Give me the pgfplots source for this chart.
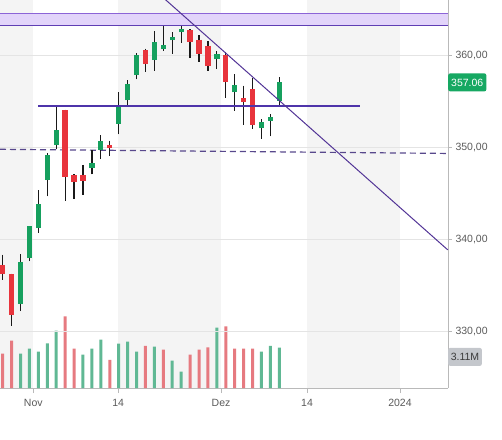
\documentclass[border=0pt]{standalone}
\usepackage{pgfplots}
\pgfplotsset{compat=1.18}
\usepackage{pgfplotstable}
\usepackage{fontspec}
\setmainfont{Liberation Sans}

\definecolor{bandgray}{RGB}{244,244,244}
\definecolor{gridgray}{RGB}{228,228,228}
\definecolor{axisgray}{RGB}{185,185,185}
\definecolor{labelgray}{RGB}{90,90,90}
\definecolor{cgreen}{RGB}{22,160,94}
\definecolor{cred}{RGB}{232,52,60}
\definecolor{vgreen}{RGB}{96,184,148}
\definecolor{vred}{RGB}{230,122,128}
\definecolor{lavfill}{RGB}{226,212,250}
\definecolor{lavtop}{RGB}{140,100,215}
\definecolor{lavbot}{RGB}{95,62,180}
\definecolor{supcol}{RGB}{78,52,170}
\definecolor{trendcol}{RGB}{82,52,150}
\definecolor{dashcol}{RGB}{88,72,140}
\definecolor{wickcol}{RGB}{25,25,25}
\definecolor{pricegreen}{RGB}{22,168,98}
\definecolor{volbox}{RGB}{196,199,204}
\definecolor{voltext}{RGB}{60,60,60}

% green candles: k, wick (low/high), body (open/close)
\pgfplotstableread[row sep=\\]{
k w b\\
2 332.23 333.03\\
2 338.47 337.54\\
2 nan nan\\
3 337.65 338.00\\
3 341.50 341.44\\
3 nan nan\\
4 340.72 341.26\\
4 345.41 343.86\\
4 nan nan\\
5 344.69 346.45\\
5 349.38 349.16\\
5 nan nan\\
6 349.80 350.26\\
6 354.42 351.91\\
6 nan nan\\
10 347.07 347.75\\
10 349.75 348.26\\
10 nan nan\\
11 348.73 349.75\\
11 351.30 350.67\\
11 nan nan\\
13 351.41 352.56\\
13 356.03 354.36\\
13 nan nan\\
14 354.60 355.11\\
14 357.37 356.89\\
14 nan nan\\
15 357.39 357.91\\
15 360.23 360.06\\
15 nan nan\\
17 358.35 359.47\\
17 362.63 361.43\\
17 nan nan\\
18 360.48 360.65\\
18 363.20 361.13\\
18 nan nan\\
19 360.19 361.62\\
19 362.57 361.96\\
19 nan nan\\
20 361.35 362.52\\
20 363.20 362.85\\
20 nan nan\\
24 358.50 359.55\\
24 360.48 360.11\\
24 nan nan\\
26 353.97 355.99\\
26 357.95 356.75\\
26 nan nan\\
29 350.92 352.10\\
29 353.06 352.76\\
29 nan nan\\
30 351.19 352.91\\
30 353.67 353.28\\
30 nan nan\\
31 354.42 355.08\\
31 357.65 357.06\\
}\greentab

% red candles: k, wick (high/low), body (open/close)
\pgfplotstableread[row sep=\\]{
k w b\\
0 338.36 337.20\\
0 335.62 336.32\\
0 nan nan\\
1 336.30 336.25\\
1 330.68 331.82\\
1 nan nan\\
7 354.10 354.05\\
7 344.22 346.82\\
7 nan nan\\
8 347.10 346.99\\
8 344.40 346.28\\
8 nan nan\\
9 348.12 346.99\\
9 344.87 346.31\\
9 nan nan\\
12 350.75 350.26\\
12 349.02 349.93\\
12 nan nan\\
16 360.73 360.56\\
16 358.15 359.04\\
16 nan nan\\
21 362.80 362.73\\
21 359.74 361.39\\
21 nan nan\\
22 362.18 361.69\\
22 359.25 360.19\\
22 nan nan\\
23 361.50 361.02\\
23 358.35 358.80\\
23 nan nan\\
25 360.37 360.06\\
25 355.35 357.12\\
25 nan nan\\
27 356.72 355.33\\
27 352.40 354.97\\
27 nan nan\\
28 357.57 356.33\\
28 352.03 352.46\\
}\redtab

% volume (millions)
\pgfplotstableread[row sep=\\]{
k v\\
2 2.65\\
3 3.03\\
4 2.80\\
5 3.45\\
6 4.42\\
9 2.57\\
10 3.03\\
11 3.73\\
13 3.42\\
14 3.57\\
15 2.80\\
17 3.20\\
19 2.11\\
20 1.26\\
24 4.65\\
29 2.80\\
30 3.26\\
31 3.11\\
}\volgreen

\pgfplotstableread[row sep=\\]{
k v\\
0 2.65\\
1 3.65\\
7 5.53\\
8 3.03\\
12 2.18\\
16 3.26\\
18 2.96\\
21 2.57\\
22 2.96\\
23 3.13\\
25 4.75\\
26 3.03\\
27 3.03\\
28 3.03\\
}\volred

\begin{document}
\begin{tikzpicture}
\useasboundingbox (0pt,-51pt) rectangle (502pt,388pt);
% ---------- background bands + volume + x axis ----------
\begin{axis}[
  at={(0pt,0pt)}, anchor=south west,
  scale only axis, width=448pt, height=388pt,
  xmin=-0.3, xmax=49.9, ymin=0, ymax=29.94,
  axis x line*=bottom, axis y line=none,
  axis line style={draw=axisgray, line width=0.8pt, -},
  xtick={3.43,12.95,24.47,34.1,44.52},
  xticklabels={Nov,14,Dez,14,2024},
  ytick=\empty,
  tick align=outside, major tick length=5pt,
  x tick style={draw=axisgray, line width=0.8pt},
  xticklabel style={font=\fontsize{10.5}{12}\selectfont, text=labelgray, yshift=-3pt},
]
\addplot[draw=none, fill=bandgray] coordinates {(-0.3,0) (3.43,0) (3.43,29.94) (-0.3,29.94)} -- cycle;
\addplot[draw=none, fill=bandgray] coordinates {(12.95,0) (24.47,0) (24.47,29.94) (12.95,29.94)} -- cycle;
\addplot[draw=none, fill=bandgray] coordinates {(34.1,0) (44.52,0) (44.52,29.94) (34.1,29.94)} -- cycle;
\addplot[ybar, bar width=3pt, bar shift=0pt, fill=vgreen, draw=none] table[x=k,y=v] \volgreen;
\addplot[ybar, bar width=3pt, bar shift=0pt, fill=vred, draw=none] table[x=k,y=v] \volred;
\coordinate (vl) at (axis cs:49.9,3.11);
\end{axis}
% ---------- price axis ----------
\begin{axis}[
  at={(0pt,0pt)}, anchor=south west,
  scale only axis, width=448pt, height=388pt,
  xmin=-0.3, xmax=49.9,
  ymin=323.9, ymax=366.0,
  axis y line*=right, axis x line=none,
  axis line style={draw=axisgray, line width=0.8pt, -},
  xtick=\empty,
  ytick={330,340,350,360},
  yticklabels={{330,00},{340,00},{350,00},{360,00}},
  ymajorgrids, grid style={draw=gridgray, line width=0.6pt},
  tick align=outside, major tick length=4pt,
  y tick style={draw=axisgray, line width=0.8pt},
  yticklabel style={font=\fontsize{10.5}{12}\selectfont, text=labelgray},
  /pgf/number format/assume math mode=true,
]
\addplot[draw=none, fill=lavfill] coordinates {(-0.3,363.25) (49.9,363.25) (49.9,364.55) (-0.3,364.55)} -- cycle;
\addplot[lavtop, line width=1.5pt] coordinates {(-0.3,364.55) (49.9,364.55)};
\addplot[lavbot, line width=1.5pt] coordinates {(-0.3,363.25) (49.9,363.25)};
\addplot[dashcol, line width=1.2pt, dash pattern=on 6pt off 4pt] coordinates {(-0.3,349.80) (49.9,349.35)};
\addplot[wickcol, line width=1.2pt, unbounded coords=jump] table[x=k,y=w] \greentab;
\addplot[wickcol, line width=1.2pt, unbounded coords=jump] table[x=k,y=w] \redtab;
\addplot[cgreen, line width=5.3pt, line cap=butt, unbounded coords=jump] table[x=k,y=b] \greentab;
\addplot[cred, line width=5.3pt, line cap=butt, unbounded coords=jump] table[x=k,y=b] \redtab;
\addplot[supcol, line width=2pt] coordinates {(3.99,354.49) (40.04,354.49)};
\addplot[trendcol, line width=1pt] coordinates {(18.0,366.24) (49.87,338.89)};
\coordinate (pl) at (axis cs:49.9,357.06);
\end{axis}
\node[anchor=west, fill=pricegreen, text=white, rounded corners=2pt, inner xsep=3pt, inner ysep=0pt, minimum height=18pt, font=\fontsize{10.5}{12}\selectfont] at (pl) {357.06};
\node[anchor=north west, fill=volbox, text=voltext, rounded corners=2pt, inner xsep=2.6pt, inner ysep=0pt, minimum height=18pt, font=\fontsize{10.5}{12}\selectfont] at (vl) {3.11M};
\end{tikzpicture}
\end{document}
